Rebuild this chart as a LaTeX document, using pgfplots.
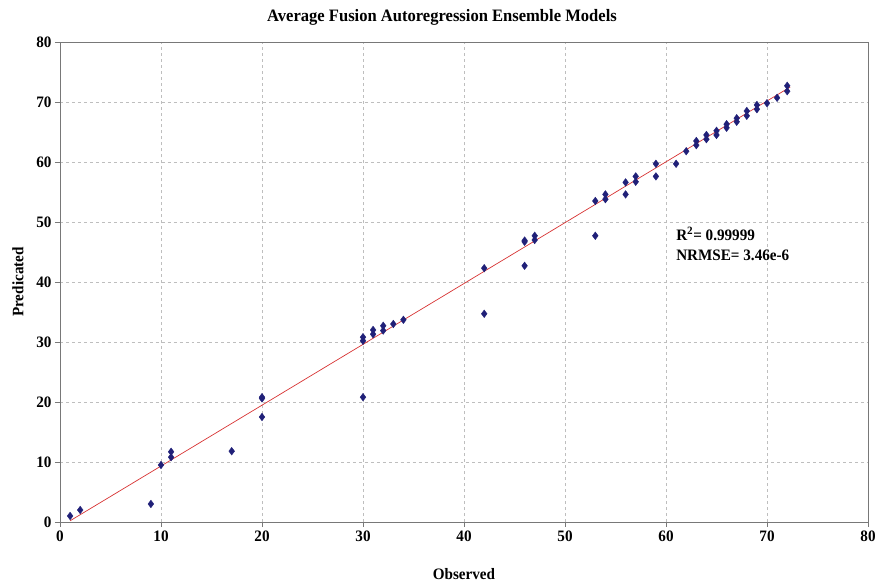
\documentclass[border=0pt]{standalone}
\usepackage{fontspec}
\setmainfont{Liberation Serif}
\newfontfamily\condfont[FakeStretch=0.95]{Liberation Serif}
\usepackage{pgfplots}
\pgfplotsset{compat=1.18}
\definecolor{navy}{RGB}{32,32,120}
\definecolor{fitred}{RGB}{215,50,50}
\definecolor{axgray}{RGB}{120,120,120}
\definecolor{gridgray}{RGB}{190,190,190}
\begin{document}
\begin{tikzpicture}[x=1bp,y=1bp]
\useasboundingbox (-60,-66) rectangle (825,522);
\begin{axis}[
  at={(0,0)}, anchor=south west,
  scale only axis, width=808bp, height=480bp,
  xmin=0, xmax=80, ymin=0, ymax=80,
  xtick={0,10,...,80}, ytick={0,10,...,80},
  grid=major,
  major grid style={gridgray, dash pattern=on 3pt off 3pt, line width=0.6pt},
  axis line style={axgray, line width=0.8pt},
  tick align=outside, major tick length=5bp,
  tick style={axgray, line width=0.8pt},
  xtick pos=bottom, ytick pos=left,
  tick label style={font=\condfont\fontsize{16}{18}\selectfont\bfseries},
  /pgf/number format/assume math mode=true,
  xlabel={Observed}, ylabel={Predicated},
  label style={font=\condfont\fontsize{16}{18}\selectfont\bfseries},
  xlabel style={at={(axis description cs:0.5,0)}, anchor=north, yshift=-43bp},
  ylabel style={at={(axis description cs:0,0.5)}, anchor=south, yshift=33bp},
  title={Average Fusion Autoregression Ensemble Models},
  title style={font=\condfont\fontsize{17.5}{20}\selectfont\bfseries, at={(axis description cs:0.5,1)}, anchor=south, yshift=7bp, xshift=-22bp},
  clip=false,
]
\addplot[fitred, line width=0.7pt, forget plot] coordinates {(1,0.2) (72.3,72.5)};
\addplot[only marks, mark=diamond*, mark size=3.8bp, mark options={fill=navy, draw=navy}] coordinates {
(1,1) (2,2) (9,3) (10,9.5) (11,11.7) (11,10.8) (17,11.8)
(20,20.8) (20,20.6) (20,17.5)
(30,30.8) (30,30.2) (30,20.8)
(31,32) (31,31.3) (32,32.7) (32,31.9) (33,33) (34,33.7)
(42,42.3) (42,34.7)
(46,46.7) (46,46.9) (46,42.7)
(47,47.7) (47,47) (53,53.5) (53,47.7)
(54,54.6) (54,53.8) (56,56.6) (56,54.6)
(57,57.6) (57,56.7) (59,59.7) (59,57.6) (61,59.7) (62,61.8)
(63,63.5) (63,62.8) (64,64.5) (64,63.8) (65,65.2) (65,64.5)
(66,66.3) (66,65.7) (67,67.3) (67,66.7) (68,68.5) (68,67.7)
(69,69.5) (69,68.8) (70,69.8) (71,70.7) (72,72.7) (72,71.8)
};
\node[anchor=west, align=left, font=\condfont\fontsize{16}{20}\selectfont\bfseries, inner sep=0pt] at (axis cs:61,46.3) {R$^{\mathbf{2}}$= 0.99999\\NRMSE= 3.46e-6};
\end{axis}
\end{tikzpicture}
\end{document}
